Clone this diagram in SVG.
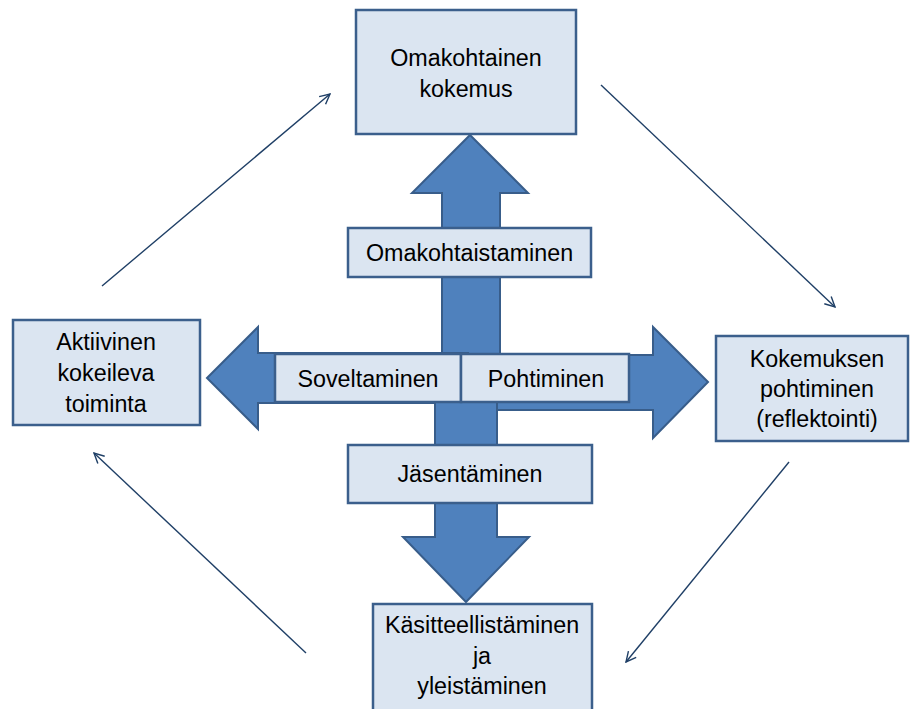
<svg xmlns="http://www.w3.org/2000/svg" width="910" height="709" viewBox="0 0 910 709">
<style>
  .box{fill:#DBE5F1;stroke:#3B5F8C;stroke-width:2.5}
  .blk{fill:#4F81BD;stroke:#385D8A;stroke-width:2;stroke-linejoin:miter}
  .t{font-family:"Liberation Sans",Arial,sans-serif;font-size:23.3px;fill:#000;text-anchor:middle}
  .ln{stroke:#1F3F66;stroke-width:1.4;fill:none;marker-end:url(#ah)}
</style>
<defs>
  <marker id="ah" viewBox="0 0 12 12" refX="11" refY="6" markerWidth="12" markerHeight="12" markerUnits="userSpaceOnUse" orient="auto">
    <path d="M1,1 L11,6 L1,11" fill="none" stroke="#1F3F66" stroke-width="1.4"/>
  </marker>
</defs>
<rect width="910" height="709" fill="#fff"/>
<g id="block-arrows">
  <polygon id="arrow-up" class="blk" points="470,135 528,193 500,193 500,378 442,378 442,193 412,193"/>
  <polygon id="arrow-left" class="blk" points="207,378 258,327 258,353 468,353 468,403 258,403 258,429"/>
  <polygon id="arrow-right" class="blk" points="708,382 653,327 653,355 468,355 468,410 653,410 653,438"/>
  <polygon id="arrow-down" class="blk" points="466,602 529,537 497,537 497,378 435,378 435,537 403,537"/>
</g>
<g id="connectors">
  <line class="ln" x1="102" y1="286" x2="330" y2="94"/>
  <line class="ln" x1="601" y1="85" x2="835" y2="307"/>
  <line class="ln" x1="789" y1="462" x2="626" y2="662"/>
  <line class="ln" x1="306" y1="653" x2="94" y2="453"/>
</g>
<g id="omakohtainen-kokemus">
  <rect class="box" x="356" y="10" width="220" height="124"/>
  <text class="t" x="466" y="66">Omakohtainen</text>
  <text class="t" x="466" y="97">kokemus</text>
</g>
<g id="omakohtaistaminen">
  <rect class="box" x="348" y="228" width="243" height="49"/>
  <text class="t" x="469.5" y="261">Omakohtaistaminen</text>
</g>
<g id="soveltaminen">
  <rect class="box" x="275" y="354" width="186" height="48"/>
  <text class="t" x="368" y="387">Soveltaminen</text>
</g>
<g id="pohtiminen">
  <rect class="box" x="461" y="354" width="168" height="48"/>
  <text class="t" x="546" y="387">Pohtiminen</text>
</g>
<g id="jasentaminen">
  <rect class="box" x="348" y="445" width="244" height="58"/>
  <text class="t" x="470" y="482">Jäsentäminen</text>
</g>
<g id="kasitteellistaminen">
  <rect class="box" x="373" y="604" width="219" height="120"/>
  <text class="t" x="482" y="633">Käsitteellistäminen</text>
  <text class="t" x="482" y="664">ja</text>
  <text class="t" x="482" y="694">yleistäminen</text>
</g>
<g id="aktiivinen">
  <rect class="box" x="13" y="320" width="187" height="105"/>
  <text class="t" x="106" y="350">Aktiivinen</text>
  <text class="t" x="106" y="381">kokeileva</text>
  <text class="t" x="106" y="412">toiminta</text>
</g>
<g id="kokemuksen-pohtiminen">
  <rect class="box" x="716" y="336" width="192" height="105"/>
  <text class="t" x="817" y="367">Kokemuksen</text>
  <text class="t" x="817" y="397">pohtiminen</text>
  <text class="t" x="817" y="427">(reflektointi)</text>
</g>
</svg>
